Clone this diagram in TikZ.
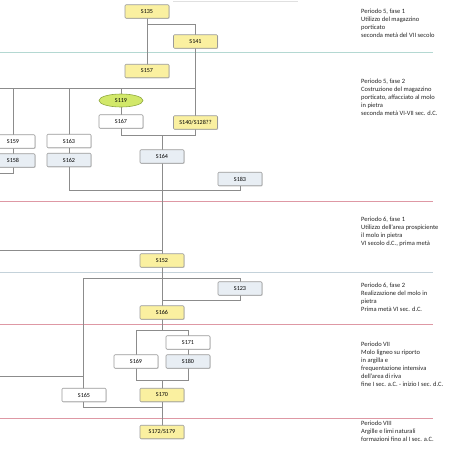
\documentclass[tikz,border=0pt]{standalone}
\usepackage{fontspec}
\setmainfont{Carlito}
\usetikzlibrary{shadows}
\definecolor{ybox}{HTML}{FAF0A0}
\definecolor{bbox}{HTML}{E8EEF4}
\definecolor{edgec}{HTML}{9A9A9A}
\definecolor{linec}{HTML}{8C8C8C}
\definecolor{ellf}{HTML}{D2E86A}
\definecolor{elld}{HTML}{8FA840}
\definecolor{septeal}{HTML}{B4D8D2}
\definecolor{sepblue}{HTML}{C4D2DA}
\definecolor{sepred}{HTML}{DE98A4}
\tikzset{
  us/.style={draw=edgec, line width=0.6pt, rounded corners=1pt, minimum width=44pt, minimum height=13.5pt, inner sep=0pt,
    font=\fontsize{6.1}{6.5}\selectfont, drop shadow={shadow xshift=0.7pt, shadow yshift=-0.7pt, opacity=0.35, fill=gray}},
  yel/.style={us, fill=ybox},
  wht/.style={us, fill=white},
  blu/.style={us, fill=bbox},
  ell/.style={ellipse, draw=elld, fill=ellf, line width=0.6pt, minimum width=44pt, minimum height=13pt, inner sep=0pt, font=\fontsize{6.1}{6.5}\selectfont},
  conn/.style={draw=linec, line width=0.8pt},
  note/.style={anchor=north west, align=left, inner sep=0pt, font=\fontsize{6.5}{8}\selectfont, text=black!85},
  sep/.style={line width=0.9pt}
}
\usetikzlibrary{shapes.geometric}
\begin{document}
\begin{tikzpicture}[x=1pt,y=-1pt]
\useasboundingbox (0,0) rectangle (474,474);
\clip (0,0) rectangle (474,474);
\fill[white] (0,0) rectangle (474,474);
% separators
\draw[sep, draw=black!12] (173,1) -- (298,1);
\draw[sep, draw=septeal] (0,52) -- (433,52);
\draw[sep, draw=sepred] (0,201) -- (433,201);
\draw[sep, draw=sepblue] (0,272) -- (433,272);
\draw[sep, draw=sepred] (0,324) -- (433,324);
\draw[sep, draw=sepred] (0,418) -- (433,418);
% coordinates
\coordinate (L88) at (0,88);
\coordinate (J135) at (121,135);
\coordinate (J190) at (69,190);
\coordinate (L173) at (0,173);
\coordinate (L250) at (0,250);
\coordinate (J278) at (83,278);
\coordinate (J300) at (240,300);
\coordinate (L376) at (0,376);
\coordinate (J330) at (136,330);
\coordinate (J380) at (136,380);
\coordinate (J407) at (83,407);
% connectors (drawn before nodes)
\path[conn] (147,11.5) -- (147,71);
\path[conn] (147,24) -| (195,41.5);
\path[conn] (195,41.5) -- (195,122.5);
\path[conn] (L88) -- (195,88);
\path[conn] (13,88) -- (13,160.5);
\path[conn] (69,88) -- (69,160);
\path[conn] (121,88) -- (121,122);
\path[conn] (13,160.5) -- (13,173) -- (L173);
\path[conn] (121,122) -- (J135) -- (195,135) -- (195,122.5);
\path[conn] (162,135) -- (162,260.5);
\path[conn] (69,160) -- (J190) -- (240,190) -- (240,179);
\path[conn] (L250) -- (162,250);
\path[conn] (162,260.5) -- (162,312.5);
\path[conn] (J278) -- (240,278) -- (240,288.5);
\path[conn] (240,288.5) -- (J300) -- (162,300);
\path[conn] (83,278) -- (83,395);
\path[conn] (L376) -- (83,376);
\path[conn] (162,312.5) -- (162,330);
\path[conn] (J330) -- (188,330) -- (188,361.5);
\path[conn] (136,330) -- (136,361.5);
\path[conn] (136,361.5) -- (J380) -- (188,380) -- (188,361.5);
\path[conn] (162,380) -- (162,432);
\path[conn] (83,395) -- (J407) -- (162,407);
% nodes
\node[yel] (S135) at (147,11.5) {S135};
\node[yel] (S141) at (195.5,41.5) {S141};
\node[yel] (S157) at (147,71) {S157};
\node[ell] (S119) at (121,100.5) {S119};
\node[wht] (S167) at (121,121.5) {S167};
\node[yel] (S140) at (195.5,122.5) {S140/S128??};
\node[wht] (S159) at (13,141.5) {S159};
\node[blu] (S158) at (13,160.5) {S158};
\node[wht] (S163) at (69,141) {S163};
\node[blu] (S162) at (69,160) {S162};
\node[blu] (S164) at (162,156.5) {S164};
\node[blu] (S183) at (240,179) {S183};
\node[yel] (S152) at (162,260.5) {S152};
\node[blu] (S123) at (240,288.5) {S123};
\node[yel] (S166) at (162,312.5) {S166};
\node[wht] (S171) at (188,342.5) {S171};
\node[wht] (S169) at (136,361.5) {S169};
\node[blu] (S180) at (188,361.5) {S180};
\node[wht] (S165) at (84,395) {S165};
\node[yel] (S170) at (162,395) {S170};
\node[yel] (S172) at (162,432) {S172/S179};
% notes
\node[note] (n1) at (361,9) {Periodo 5, fase 1\\Utilizzo del magazzino\\porticato\\seconda metà del VII secolo};
\node[note] (n2) at (361,79) {Periodo 5, fase 2\\Costruzione del magazzino\\porticato, affacciato al molo\\in pietra\\seconda metà VI-VII sec. d.C.};
\node[note] (n3) at (361,217) {Periodo 6, fase 1\\Utilizzo dell'area prospiciente\\il  molo in pietra\\VI secolo d.C., prima metà};
\node[note] (n4) at (361,283) {Periodo 6, fase 2\\Realizzazione del molo in\\pietra\\Prima metà VI sec. d.C.};
\node[note] (n5) at (361,342) {Periodo VII\\Molo ligneo su riporto\\in argilla e\\frequentazione intensiva\\dell'area di riva\\fine I sec. a.C. - inizio I sec. d.C.};
\node[note] (n6) at (361,421) {Periodo VIII\\Argille e limi naturali\\formazioni fino al I sec. a.C.};
\end{tikzpicture}
\end{document}
